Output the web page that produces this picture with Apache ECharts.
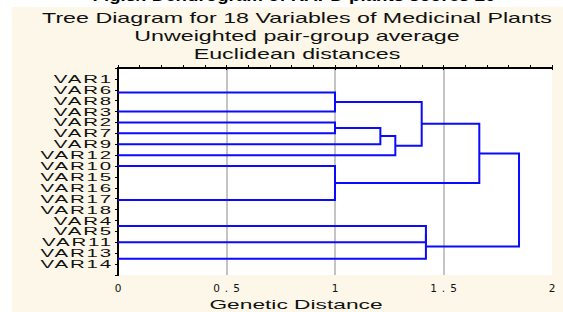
<!DOCTYPE html>
<html>
<head>
<meta charset="utf-8">
<title>Tree Diagram</title>
<script src="https://cdn.jsdelivr.net/npm/echarts@6/dist/echarts.min.js"></script>
<style>
    html, body { margin: 0; padding: 0; background: #fff; }
    #main { width: 563px; height: 312px; }
    /* the scanned figure has horizontally stretched lettering; svg text is widened
       around a fixed x in chart coordinates (text positions are pure translations) */
    #main text { transform-box: view-box; }
    #main text[style*="17px"] { scale: 1.1 1; transform-origin: 294px 0; }
    #main text[style*="14px"] { scale: 1.66 1; transform-origin: 297px 0; }
    #main text[style*="13px"] { scale: 1.75 1; transform-origin: 296px 0; }
    #main text[style*="11px"] { scale: 1.86 1; transform-origin: 113px 0; letter-spacing: 1px; }
    #main text[style*="10.5px"] { letter-spacing: 5px; }
</style>
</head>
<body>
<div id="main"></div>
<script>
var caption = 'Fig.3/. Dendrogram of RAPD plants scores 20';
var titleLines = ['Tree Diagram for 18 Variables of Medicinal Plants', 'Unweighted pair-group average', 'Euclidean distances'];
var xName = 'Genetic Distance';
var xTicks = ['0', '0.5', '1', '1.5', '2'];
var leaves = ['VAR1', 'VAR6', 'VAR8', 'VAR3', 'VAR2', 'VAR7', 'VAR9', 'VAR12', 'VAR10',
    'VAR15', 'VAR16', 'VAR17', 'VAR18', 'VAR4', 'VAR5', 'VAR11', 'VAR13', 'VAR14'];
// linkage rows: child a, child b, distance (0..17 = leaf, 18+k = cluster of row k)
var linkA = [0, 18, 9, 20, 21, 13, 16, 19, 4, 8, 26, 28, 25, 23, 31, 30, 33];
var linkB = [1, 2, 10, 11, 12, 14, 17, 3, 5, 22, 6, 7, 29, 15, 24, 27, 32];
var linkDist = [0, 0, 0, 0, 0, 0, 0, 1.0, 1.0, 1.0, 1.209, 1.278, 1.3995, 1.419, 1.419, 1.665, 1.848];

var font = 'Liberation Sans, Arial, sans-serif';
var ink = '#111';

// node positions: leaves at 1..n, a cluster sits halfway between its two children
var nodeY = [], nodeH = [];
for (var i = 0; i < leaves.length; i++) {
    nodeY.push(i + 1);
    nodeH.push(0);
}
var links = [];
for (var k = 0; k < linkA.length; k++) {
    var a = linkA[k], b = linkB[k], h = linkDist[k];
    if (h > 0) {
        links.push({coords: [[nodeH[a], nodeY[a]], [h, nodeY[a]], [h, nodeY[b]], [nodeH[b], nodeY[b]]]});
    }
    nodeY.push((nodeY[a] + nodeY[b]) / 2);
    nodeH.push(h);
}

var myChart = echarts.init(document.getElementById('main'), null, {renderer: 'svg'});
var option = {
    backgroundColor: '#fcf7e8',
    animation: false,
    title: [
        {
            text: titleLines.join('\n'),
            left: 297, top: 9, padding: 0,
            textAlign: 'center',
            textStyle: {fontFamily: font, fontSize: 14, fontWeight: 'normal', color: ink, lineHeight: 18}
        },
        {
            text: xName,
            left: 296, top: 296, padding: 0,
            textAlign: 'center',
            textStyle: {fontFamily: font, fontSize: 13, fontWeight: 'normal', color: ink, lineHeight: 16}
        }
    ],
    graphic: [
        // white page margin round the scanned figure
        {type: 'rect', shape: {x: 0, y: 0, width: 563, height: 7}, style: {fill: '#fff'}},
        {type: 'rect', shape: {x: 0, y: 0, width: 12, height: 312}, style: {fill: '#fff'}},
        {type: 'text', x: 294, y: 4, style: {text: caption, fill: '#000', font: 'bold 17px Liberation Sans', textAlign: 'center', textVerticalAlign: 'bottom'}}
    ],
    grid: {
        left: 118, right: 11, top: 68, bottom: 37,
        show: true, backgroundColor: '#fff', borderWidth: 0,
        outerBoundsMode: 'none'
    },
    xAxis: [
        {
            type: 'value', position: 'bottom', min: 0, max: 2, interval: 0.5,
            axisLine: {show: true, lineStyle: {color: '#000', width: 2}},
            axisTick: {show: true, inside: true, length: 3, lineStyle: {color: '#000'}},
            minorTick: {show: true, splitNumber: 5, length: 3, lineStyle: {color: '#000'}},
            axisLabel: {
                margin: 7, fontFamily: 'DejaVu Sans', fontSize: 10.5, color: ink, padding: [0, 0, 0, 5],
                formatter: function (v) { return xTicks[Math.round(v * 2)]; }
            },
            splitLine: {show: true, showMinLine: false, showMaxLine: false, lineStyle: {color: '#c4c4c4', width: 2}}
        },
        {
            type: 'value', position: 'top', min: 0, max: 2, interval: 0.5,
            axisLine: {show: true, lineStyle: {color: '#000', width: 2}},
            axisTick: {show: true, inside: true, length: 2, lineStyle: {color: '#000'}},
            axisLabel: {show: false},
            splitLine: {show: false}
        }
    ],
    yAxis: [
        {
            type: 'value', position: 'left', inverse: true, min: 0, max: leaves.length + 1, interval: 1,
            axisLine: {show: true, lineStyle: {color: '#000', width: 2}},
            axisTick: {show: true, length: 3, lineStyle: {color: '#000'}},
            axisLabel: {
                margin: 5, fontFamily: font, fontSize: 11, lineHeight: 10, color: ink,
                formatter: function (v) { return leaves[v - 1] || ''; }
            },
            splitLine: {show: false}
        },
        {
            type: 'value', position: 'right', inverse: true, min: 0, max: leaves.length + 1, interval: 1,
            axisLine: {show: true, lineStyle: {color: '#000', width: 2}},
            axisTick: {show: true, inside: true, length: 3, lineStyle: {color: '#000'}},
            axisLabel: {show: false},
            splitLine: {show: false}
        }
    ],
    series: [
        {
            name: 'tree',
            type: 'lines',
            coordinateSystem: 'cartesian2d',
            polyline: true,
            silent: true,
            lineStyle: {color: '#0a0aff', width: 2, opacity: 1},
            data: links
        }
    ]
};
myChart.setOption(option);
</script>
</body>
</html>
